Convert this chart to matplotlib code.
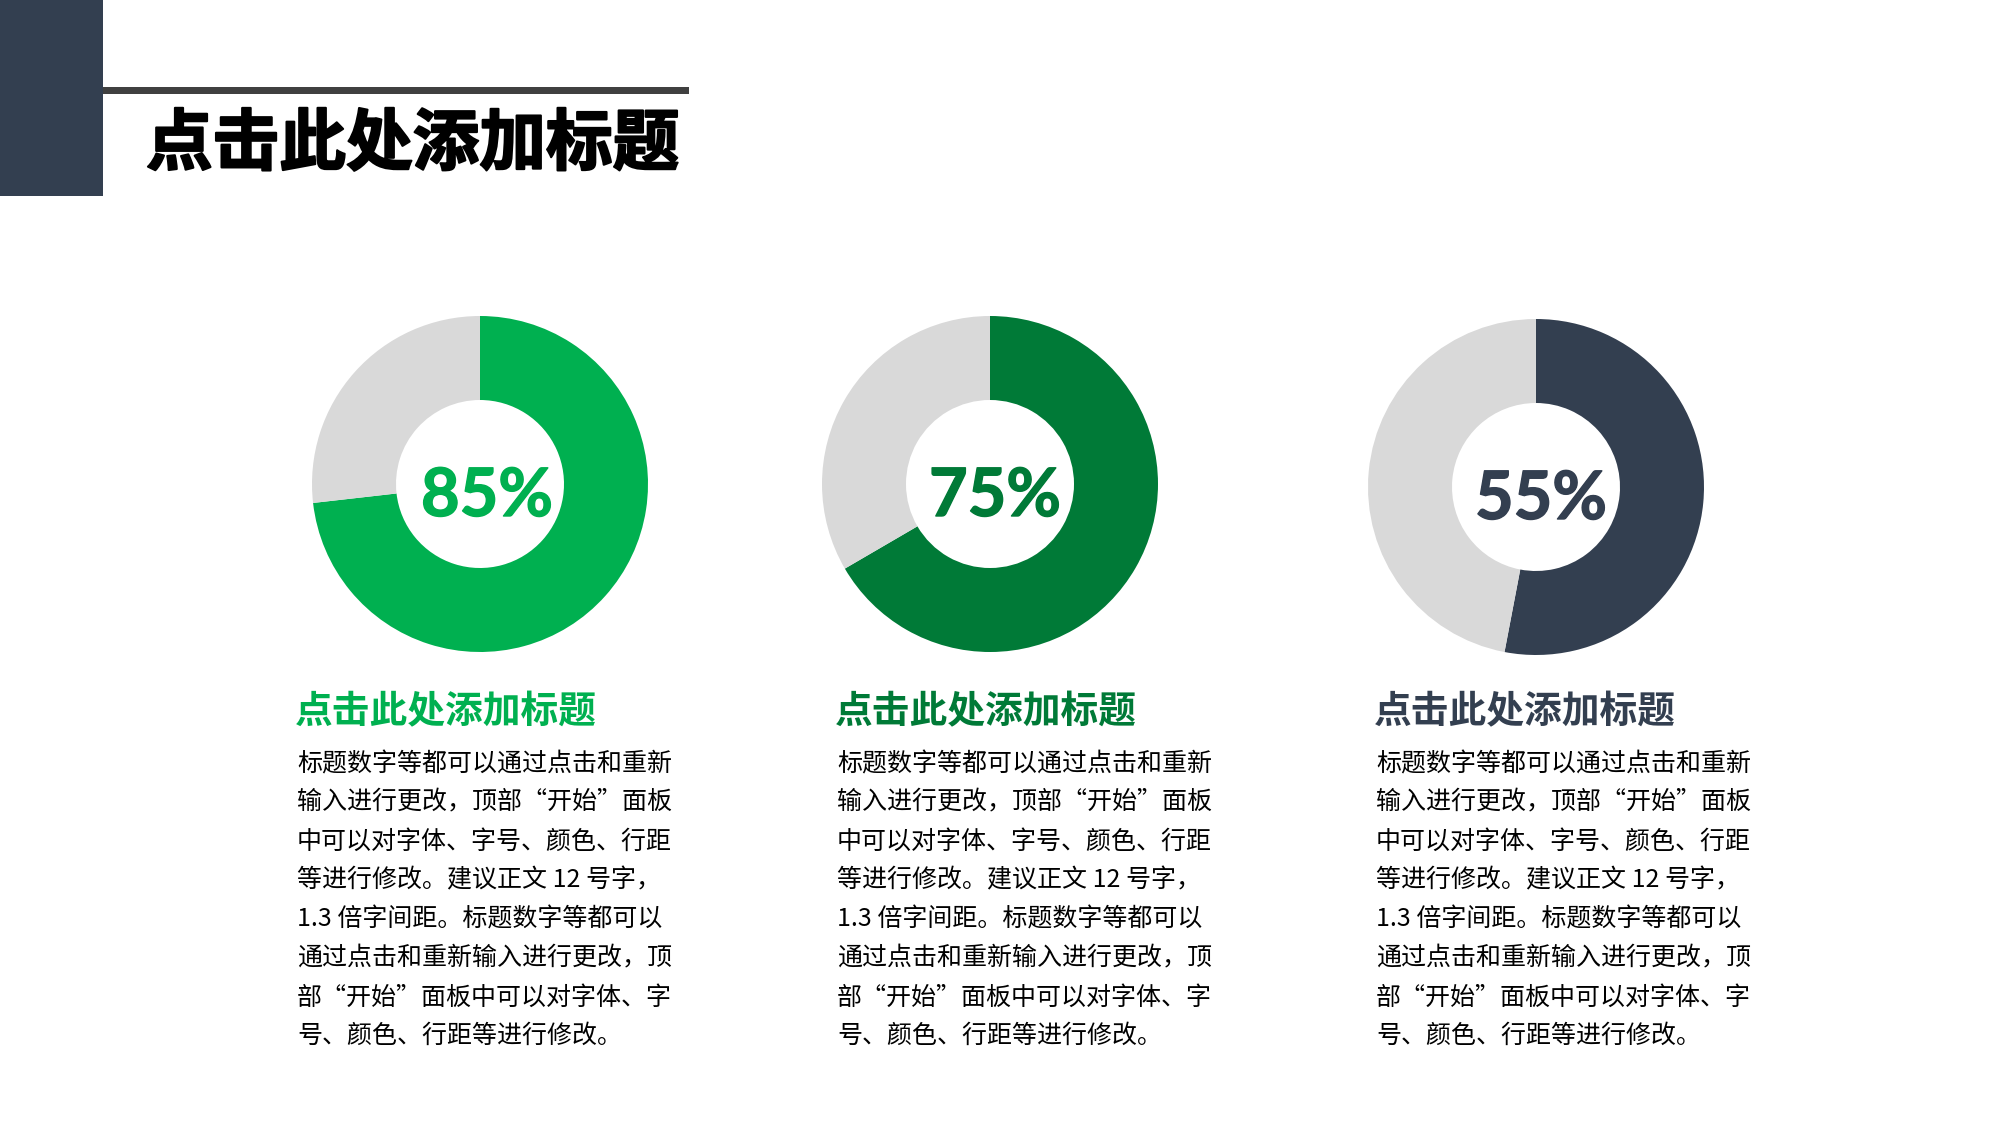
import matplotlib
matplotlib.use("Agg")
import matplotlib.pyplot as plt
import matplotlib.patheffects as pe
from matplotlib.patches import Rectangle

plt.rcParams['font.family'] = ['Noto Sans CJK SC', 'DejaVu Sans']

title = "点击此处添加标题"
labels = ["85%", "75%", "55%"]
shares = [73.2, 66.6, 53.0]
colors = ["#00B050", "#007A37", "#333F50"]
rest_color = "#D9D9D9"
body_lines = [
    "标题数字等都可以通过点击和重新",
    "输入进行更改，顶部“开始”面板",
    "中可以对字体、字号、颜色、行距",
    "等进行修改。建议正文 12 号字，",
    "1.3 倍字间距。标题数字等都可以",
    "通过点击和重新输入进行更改，顶",
    "部“开始”面板中可以对字体、字",
    "号、颜色、行距等进行修改。",
]

W, H = 2000, 1125
fig = plt.figure(figsize=(20, 11.25), dpi=100, facecolor="white")

# page level coordinates in pixels
bg = fig.add_axes([0, 0, 1, 1])
bg.set_xlim(0, W)
bg.set_ylim(H, 0)
bg.axis("off")
bg.add_patch(Rectangle((0, 0), 103, 196, color="#333F50", lw=0))
bg.add_patch(Rectangle((103, 87), 589 - 3, 6.5, color="#404040", lw=0))
bg.text(146, 145, title, fontsize=48, fontweight="bold", color="black", va="center", ha="left",
        path_effects=[pe.withStroke(linewidth=1.5, foreground="black")])

centers = [(480, 484), (990, 484), (1536, 487)]
text_x = [297, 837, 1376]
label_dx = [7, 5, 5]
R = 168

for i in range(3):
    cx, cy = centers[i]
    ax = fig.add_axes([(cx - R) / W, 1 - (cy + R) / H, 2 * R / W, 2 * R / H])
    ax.pie([shares[i], 100 - shares[i]], colors=[colors[i], rest_color], startangle=90,
           counterclock=False, radius=1, wedgeprops=dict(width=0.5, linewidth=0))
    ax.set_xlim(-1, 1)
    ax.set_ylim(-1, 1)

    bg.text(cx + label_dx[i], cy + 13, labels[i], fontsize=48, fontweight="bold", family="Lato",
            color=colors[i], ha="center", va="center", zorder=5,
            path_effects=[pe.withStroke(linewidth=1, foreground=colors[i])])

    bg.text(text_x[i] - 2, 712, title, fontsize=27.2, fontweight="bold", color=colors[i],
            ha="left", va="center")
    for j, line in enumerate(body_lines):
        bg.text(text_x[i], 764 + j * 38.9, line, fontsize=18, color="black", ha="left", va="center")

fig.savefig("out.png", dpi=100)
